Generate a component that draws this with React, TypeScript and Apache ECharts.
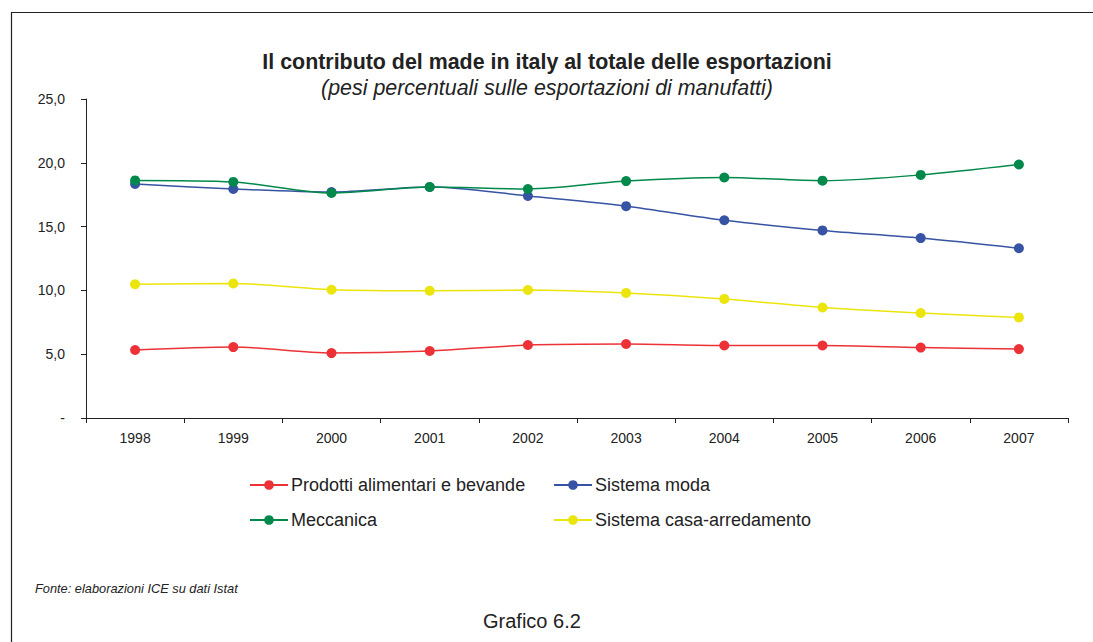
import React, { useEffect, useRef } from "react";
import * as echarts from "echarts";

const years = ["1998", "1999", "2000", "2001", "2002", "2003", "2004", "2005", "2006", "2007"];
const prodotti = [5.33, 5.56, 5.09, 5.25, 5.72, 5.8, 5.68, 5.68, 5.52, 5.4];
const moda = [18.34, 17.95, 17.71, 18.1, 17.4, 16.6, 15.5, 14.7, 14.1, 13.3];
const meccanica = [18.62, 18.5, 17.63, 18.1, 17.95, 18.57, 18.85, 18.6, 19.05, 19.87];
const casa = [10.48, 10.54, 10.05, 9.97, 10.03, 9.8, 9.33, 8.66, 8.23, 7.88];

const names = [
  "Prodotti alimentari e bevande",
  "Sistema moda",
  "Meccanica",
  "Sistema casa-arredamento",
];
const colors = ["#ec3237", "#3653a4", "#00894a", "#ebe50c"];
const seriesData = [prodotti, moda, meccanica, casa];

const FONT = "Arial, 'Liberation Sans', Helvetica, sans-serif";

export default function App() {
  const ref = useRef<HTMLDivElement>(null);
  useEffect(() => {
    document.body.style.margin = "0";
    const chart = echarts.init(ref.current!, null, { renderer: "svg" });
    const legendPos = [
      { left: 244, top: 471 },
      { left: 548, top: 471 },
      { left: 244, top: 506 },
      { left: 548, top: 506 },
    ];
    chart.setOption({
      animation: false,
      backgroundColor: "#fff",
      title: [
        {
          text: "Il contributo del made in italy al totale delle esportazioni",
          left: 542,
          textAlign: "center",
          top: 46,
          textStyle: { fontFamily: FONT, fontSize: 21.4, fontWeight: "bold", color: "#222" },
        },
        {
          text: "(pesi percentuali sulle esportazioni di manufatti)",
          left: 542,
          textAlign: "center",
          top: 72,
          textStyle: { fontFamily: FONT, fontSize: 21.4, fontStyle: "italic", fontWeight: "normal", color: "#222" },
        },
      ],
      legend: names.map((n, i) => ({
        data: [n],
        left: legendPos[i].left,
        top: legendPos[i].top,
        itemWidth: 38,
        itemHeight: 12,
        itemGap: 4,
        textStyle: { fontFamily: FONT, fontSize: 18, color: "#222", padding: [0, 0, 0, -2] },
        selectedMode: false,
      })),
      grid: { left: 86, right: 25, top: 99, bottom: 224, containLabel: false },
      xAxis: {
        type: "category",
        data: years,
        boundaryGap: true,
        axisLine: { lineStyle: { color: "#222", width: 1 } },
        axisTick: { show: true, alignWithLabel: false, length: 5, inside: false, lineStyle: { color: "#222" } },
        axisLabel: { fontFamily: FONT, fontSize: 14, color: "#222", margin: 13 },
        splitLine: { show: false },
      },
      yAxis: {
        type: "value",
        min: 0,
        max: 25,
        interval: 5,
        axisLine: { show: true, lineStyle: { color: "#222", width: 1 } },
        axisTick: { show: true, length: 5, lineStyle: { color: "#222" } },
        axisLabel: {
          fontFamily: FONT,
          fontSize: 14,
          color: "#222",
          margin: 21,
          formatter: (v: number) => (v === 0 ? "-" : v.toFixed(1).replace(".", ",")),
        },
        splitLine: { show: false },
      },
      series: names.map((n, i) => ({
        name: n,
        type: "line",
        data: seriesData[i],
        smooth: 0.3,
        symbol: "circle",
        symbolSize: 10,
        lineStyle: { color: colors[i], width: 1.5 },
        itemStyle: { color: colors[i] },
        z: i === 2 ? 3 : 2,
      })),
      graphic: [
        {
          type: "polyline",
          shape: { points: [[11.5, 700], [11.5, 12.5], [1100, 12.5]] },
          style: { stroke: "#222", lineWidth: 1.2, fill: "none" },
        },
        {
          type: "text",
          left: 35,
          top: 582,
          style: {
            text: "Fonte: elaborazioni ICE su dati Istat",
            font: "italic 12.8px 'Liberation Sans', Arial, sans-serif",
            fill: "#222",
          },
        },
        {
          type: "text",
          left: 483,
          top: 611,
          style: {
            text: "Grafico 6.2",
            font: "20px 'Liberation Sans', Arial, sans-serif",
            fill: "#222",
          },
        },
      ],
    });
    return () => chart.dispose();
  }, []);
  return <div ref={ref} style={{ width: 1093, height: 642 }} />;
}
